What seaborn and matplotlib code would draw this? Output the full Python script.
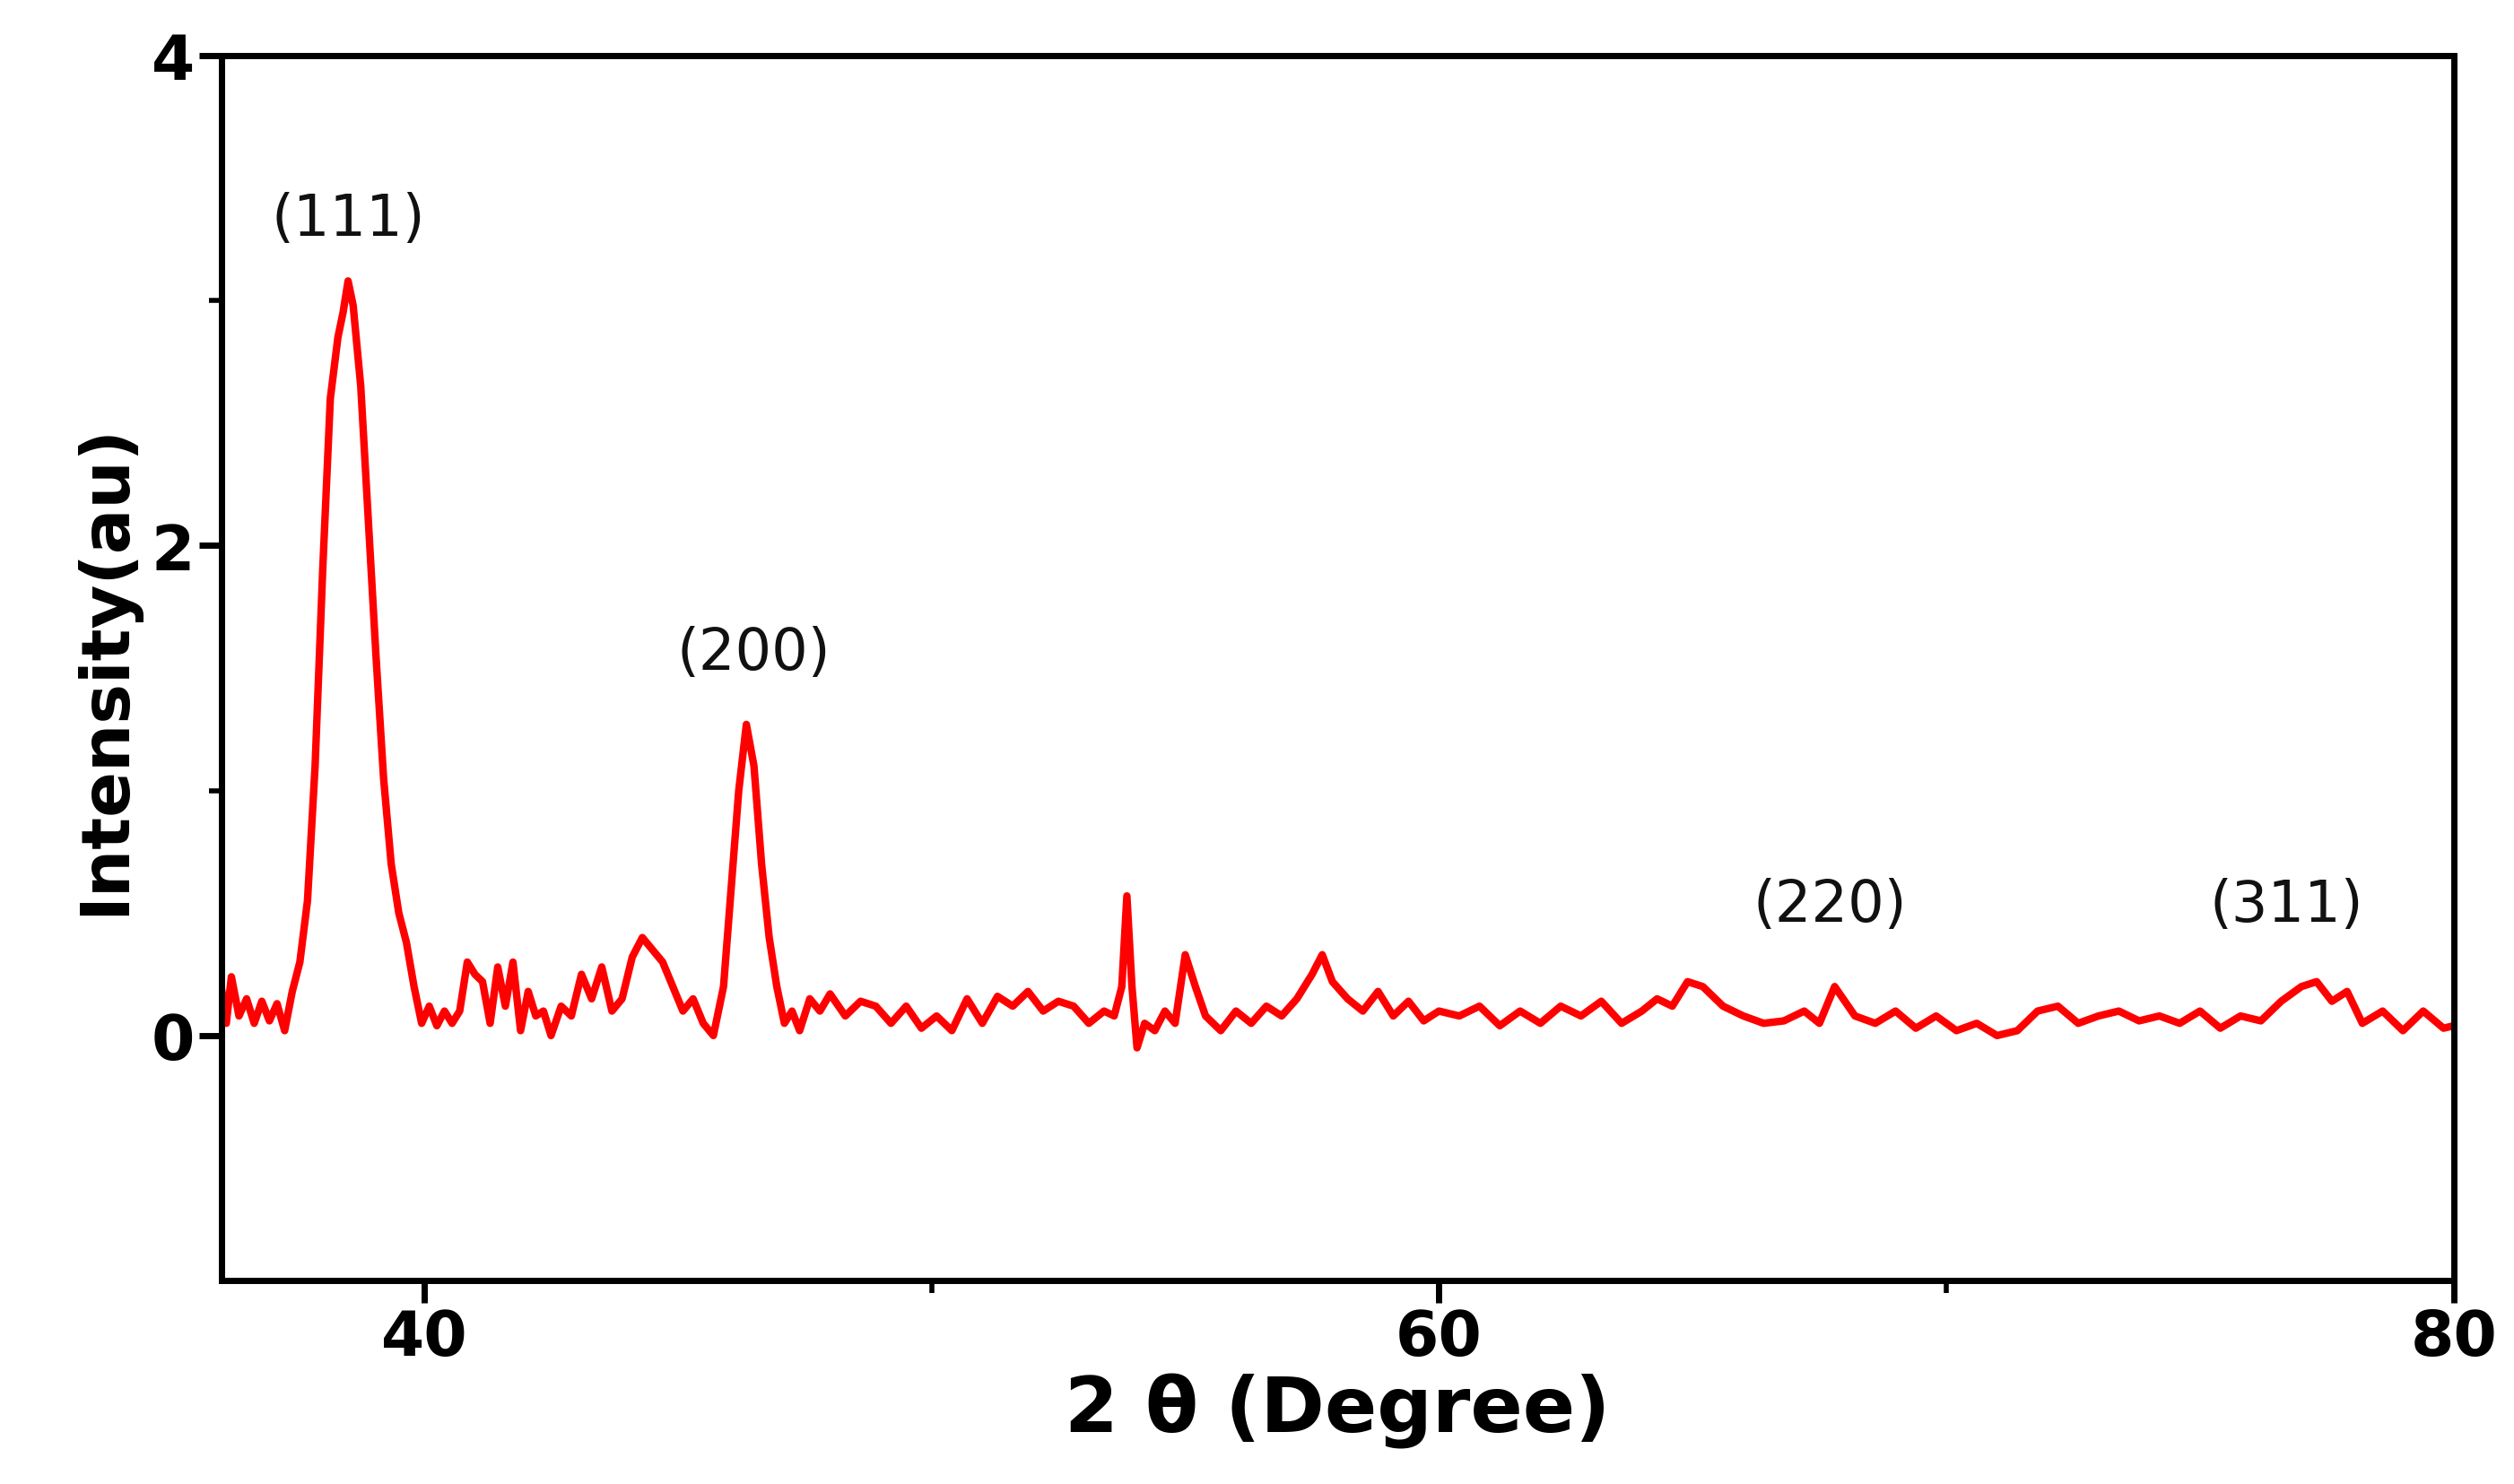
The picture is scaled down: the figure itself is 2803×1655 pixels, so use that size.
import numpy as np
import pandas as pd
import seaborn as sns
import matplotlib.pyplot as plt

# 2theta (degree) and intensity (au)
two_theta = [36.0, 36.1, 36.2, 36.35, 36.5, 36.65, 36.8, 36.95, 37.1, 37.25, 37.4, 37.55, 37.7, 37.85, 38.0, 38.15,
             38.3, 38.4, 38.5, 38.6, 38.75, 38.9, 39.05, 39.2, 39.35, 39.5, 39.65, 39.8, 39.95, 40.1, 40.25, 40.4,
             40.55, 40.7, 40.85, 41.0, 41.15, 41.3, 41.45, 41.6, 41.75, 41.9, 42.05, 42.2, 42.35, 42.5, 42.7, 42.9,
             43.1, 43.3, 43.5, 43.7, 43.9, 44.1, 44.3, 44.5, 44.7, 44.9, 45.1, 45.3, 45.5, 45.7, 45.9, 46.05, 46.2,
             46.35, 46.5, 46.65, 46.8, 46.95, 47.1, 47.25, 47.4, 47.6, 47.8, 48.0, 48.3, 48.6, 48.9, 49.2, 49.5,
             49.8, 50.1, 50.4, 50.7, 51.0, 51.3, 51.6, 51.9, 52.2, 52.5, 52.8, 53.1, 53.4, 53.6, 53.75, 53.85, 53.95,
             54.05, 54.2, 54.4, 54.6, 54.8, 55.0, 55.2, 55.4, 55.7, 56.0, 56.3, 56.6, 56.9, 57.2, 57.5, 57.7, 57.9,
             58.2, 58.5, 58.8, 59.1, 59.4, 59.7, 60.0, 60.4, 60.8, 61.2, 61.6, 62.0, 62.4, 62.8, 63.2, 63.6, 64.0,
             64.3, 64.6, 64.9, 65.2, 65.6, 66.0, 66.4, 66.8, 67.2, 67.5, 67.8, 68.2, 68.6, 69.0, 69.4, 69.8, 70.2,
             70.6, 71.0, 71.4, 71.8, 72.2, 72.6, 73.0, 73.4, 73.8, 74.2, 74.6, 75.0, 75.4, 75.8, 76.2, 76.6, 77.0,
             77.3, 77.6, 77.9, 78.2, 78.6, 79.0, 79.4, 79.8, 80.0]
intensity = [0.20, 0.05, 0.24, 0.08, 0.15, 0.05, 0.14, 0.06, 0.13, 0.02, 0.18, 0.30, 0.55, 1.10, 1.90, 2.60,
             2.85, 2.95, 3.08, 2.98, 2.65, 2.10, 1.55, 1.05, 0.70, 0.50, 0.38, 0.20, 0.05, 0.12, 0.04, 0.10,
             0.05, 0.10, 0.30, 0.25, 0.22, 0.05, 0.28, 0.12, 0.30, 0.02, 0.18, 0.08, 0.10, 0.00, 0.12, 0.08,
             0.25, 0.15, 0.28, 0.10, 0.15, 0.32, 0.40, 0.35, 0.30, 0.20, 0.10, 0.15, 0.05, 0.00, 0.20, 0.60, 1.00,
             1.27, 1.10, 0.70, 0.40, 0.20, 0.05, 0.10, 0.02, 0.15, 0.10, 0.17, 0.08, 0.14, 0.12, 0.05, 0.12,
             0.03, 0.08, 0.02, 0.15, 0.05, 0.16, 0.12, 0.18, 0.10, 0.14, 0.12, 0.05, 0.10, 0.08, 0.20, 0.57, 0.20,
             -0.05, 0.05, 0.02, 0.10, 0.05, 0.33, 0.20, 0.08, 0.02, 0.10, 0.05, 0.12, 0.08, 0.15, 0.25, 0.33, 0.22,
             0.15, 0.10, 0.18, 0.08, 0.14, 0.06, 0.10, 0.08, 0.12, 0.04, 0.10, 0.05, 0.12, 0.08, 0.14, 0.05, 0.10,
             0.15, 0.12, 0.22, 0.20, 0.12, 0.08, 0.05, 0.06, 0.10, 0.05, 0.20, 0.08, 0.05, 0.10, 0.03, 0.08, 0.02,
             0.05, 0.00, 0.02, 0.10, 0.12, 0.05, 0.08, 0.10, 0.06, 0.08, 0.05, 0.10, 0.03, 0.08, 0.06, 0.14, 0.20,
             0.22, 0.14, 0.18, 0.05, 0.10, 0.02, 0.10, 0.03, 0.04]
peak_labels = ["(111)", "(200)", "(220)", "(311)"]
label_x = [38.5, 46.5, 67.7, 76.7]
label_y = [3.22, 1.45, 0.42, 0.42]

df = pd.DataFrame({"two_theta": two_theta, "intensity": intensity})

sns.set_style("ticks")
fig = plt.figure(figsize=(28.03, 16.56), dpi=100)
ax = fig.add_axes([0.088, 0.137, 0.888, 0.825])

sns.lineplot(data=df, x="two_theta", y="intensity", color="#ff0000", linewidth=6, ax=ax)

for txt, lx, ly in zip(peak_labels, label_x, label_y):
    ax.text(lx, ly, txt, ha="center", va="bottom", fontsize=46, color="#111111")

ax.set_xlim(36, 80)
ax.set_ylim(-1, 4)
ax.set_xticks([40, 60, 80])
ax.set_xticks([50, 70], minor=True)
ax.set_yticks([0, 2, 4])
ax.set_yticks([1, 3], minor=True)
ax.tick_params(axis="both", which="major", length=18, width=5, labelsize=50, direction="out",
               color="black", labelcolor="black")
ax.tick_params(axis="both", which="minor", length=10, width=4, direction="out", color="black")
for lab in ax.get_xticklabels() + ax.get_yticklabels():
    lab.set_fontweight("bold")
for sp in ax.spines.values():
    sp.set_linewidth(5)
    sp.set_color("black")
    sp.set_visible(True)

ax.set_xlabel("2 θ (Degree)", fontsize=62, fontweight="bold", labelpad=4, color="black")
ax.set_ylabel("Intensity(au)", fontsize=54, fontweight="bold", labelpad=10, color="black")

fig.savefig("out.png", dpi=100)
